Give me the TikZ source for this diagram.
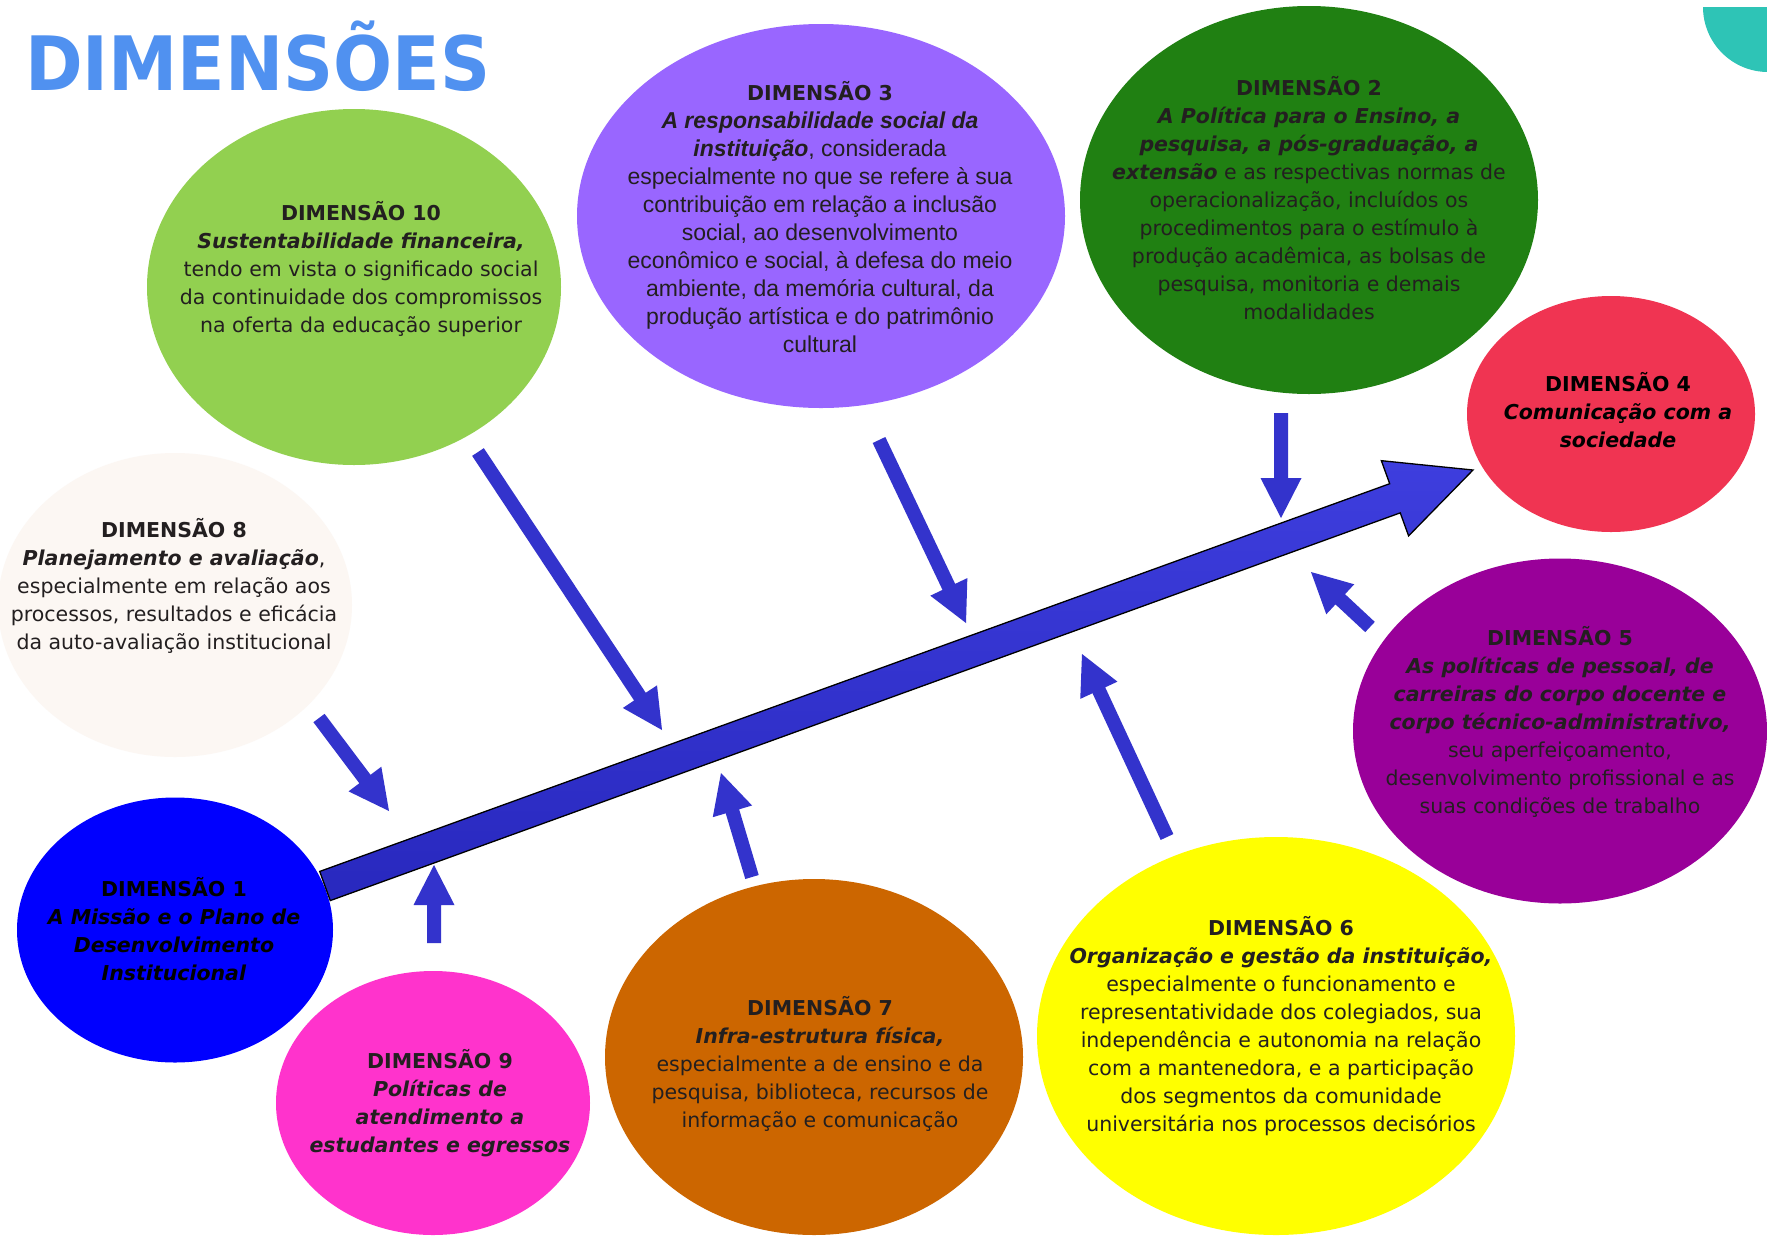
\documentclass[tikz,border=0pt]{standalone}
\usepackage{fontspec}
\usepackage{graphicx}
\setmainfont{DejaVu Sans}[BoldFont={DejaVu Sans Bold},ItalicFont={DejaVu Sans Oblique},BoldItalicFont={DejaVu Sans Bold Oblique}]
\newfontfamily\arialf{Liberation Sans}
\usetikzlibrary{calc,shapes.geometric}
\definecolor{titleblue}{RGB}{80,145,240}
\definecolor{tealc}{RGB}{46,196,182}
\definecolor{cgreenl}{RGB}{146,208,80}
\definecolor{cpurple}{RGB}{153,102,255}
\definecolor{cgreend}{RGB}{32,128,18}
\definecolor{cred}{RGB}{240,52,82}
\definecolor{ccream}{RGB}{252,247,243}
\definecolor{cmagenta}{RGB}{153,0,153}
\definecolor{cblue}{RGB}{0,0,255}
\definecolor{cpink}{RGB}{255,51,204}
\definecolor{corange}{RGB}{204,102,0}
\definecolor{cyellow}{RGB}{255,255,0}
\definecolor{ablue}{RGB}{51,51,204}
\definecolor{mainbluel}{RGB}{62,62,222}
\definecolor{mainblued}{RGB}{40,40,190}
\definecolor{tgray}{RGB}{35,31,32}
\newcommand\bi[1]{\textbf{\textit{#1}}}
% block arrow: options, tail, tip, half shaft, half head, head length
\newcommand\blkarrow[6][]{%
  \coordinate (hb) at ($(#3)!#6!(#2)$);
  \path[#1] ($(#2)!#4!90:(#3)$) -- ($(hb)!#4!90:(#3)$) -- ($(hb)!#5!90:(#3)$) -- (#3)
    -- ($(hb)!#5!-90:(#3)$) -- ($(hb)!#4!-90:(#3)$) -- ($(#2)!#4!-90:(#3)$) -- cycle;}
\begin{document}
\begin{tikzpicture}[x=1pt,y=-1pt,
  ell/.style={ellipse,draw=none,inner sep=0pt,minimum width=#1},
  txt/.style={align=center,text=tgray,inner sep=0pt,font=\fontsize{20.5}{28}\selectfont},
  sarrow/.style={fill=ablue,draw=none}]
\useasboundingbox (0,0) rectangle (1767,1235);
\fill[white] (0,0) rectangle (1767,1235);
% corner decoration
\begin{scope}
  \clip (0,7) rectangle (1767,1235);
  \fill[tealc] (1768,7) circle (65pt);
\end{scope}
% ellipses
\node[ell=414pt,minimum height=356pt,fill=cgreenl] (e10) at (354,287) {};
\node[ell=488pt,minimum height=384pt,fill=cpurple] (e3) at (821,216) {};
\node[ell=458pt,minimum height=388pt,fill=cgreend] (e2) at (1309,200) {};
\node[ell=288pt,minimum height=236pt,fill=cred] (e4) at (1611,414) {};
\node[ell=354pt,minimum height=304pt,fill=ccream] (e8) at (175,605) {};
\node[ell=414pt,minimum height=345pt,fill=cmagenta] (e5) at (1560,731) {};
\node[ell=316pt,minimum height=265pt,fill=cblue] (e1) at (175,930) {};
\node[ell=314pt,minimum height=264pt,fill=cpink] (e9) at (433,1103) {};
\node[ell=418pt,minimum height=356pt,fill=corange] (e7) at (814,1057) {};
\node[ell=478pt,minimum height=398pt,fill=cyellow] (e6) at (1276,1036) {};
% main arrow
\coordinate (mt) at (325,886);
\coordinate (mh) at (1473,470);
\blkarrow[top color=mainbluel,bottom color=mainblued,draw=black,line width=1.3pt,line join=miter]{mt}{mh}{15.5pt}{40pt}{83pt}
% small arrows
\coordinate (a10t) at (478,452);  \coordinate (a10h) at (662,730);
\coordinate (a3t) at (879,440);   \coordinate (a3h) at (966,623);
\coordinate (a2t) at (1281,413);  \coordinate (a2h) at (1281,518);
\coordinate (a5t) at (1370,627);  \coordinate (a5h) at (1311,572);
\coordinate (a6t) at (1167,837);  \coordinate (a6h) at (1082,654);
\coordinate (a7t) at (752,877);   \coordinate (a7h) at (721,773);
\coordinate (a9t) at (434,943);   \coordinate (a9h) at (434,865);
\coordinate (a8t) at (319,718);   \coordinate (a8h) at (389,811);
\blkarrow[sarrow]{a10t}{a10h}{7pt}{20.5pt}{40pt}
\blkarrow[sarrow]{a3t}{a3h}{7pt}{20.5pt}{40pt}
\blkarrow[sarrow]{a2t}{a2h}{7pt}{20.5pt}{40pt}
\blkarrow[sarrow]{a5t}{a5h}{7pt}{20.5pt}{40pt}
\blkarrow[sarrow]{a6t}{a6h}{7pt}{20.5pt}{40pt}
\blkarrow[sarrow]{a7t}{a7h}{7pt}{20.5pt}{40pt}
\blkarrow[sarrow]{a9t}{a9h}{7pt}{20.5pt}{40pt}
\blkarrow[sarrow]{a8t}{a8h}{7pt}{20.5pt}{40pt}
% title
\node[anchor=base west,inner sep=0pt,text=titleblue,font=\fontsize{75}{75}\selectfont\bfseries] (title) at (25,90) {\scalebox{0.927}[1]{DIMENSÕES}};
% texts
\node[txt] (t10) at (361,269) {\textbf{DIMENSÃO 10}\\
\bi{Sustentabilidade financeira,}\\
tendo em vista o significado social\\
da continuidade dos compromissos\\
na oferta da educação superior};
\node[txt,font=\arialf\fontsize{23}{28}\selectfont] (t3) at (820,217) {{\rmfamily\fontsize{20.5}{28}\selectfont\textbf{DIMENSÃO 3}}\\
\bi{A responsabilidade social da}\\
\bi{instituição}, considerada\\
especialmente no que se refere à sua\\
contribuição em relação a inclusão\\
social, ao desenvolvimento\\
econômico e social, à defesa do meio\\
ambiente, da memória cultural, da\\
produção artística e do patrimônio\\
cultural};
\node[txt] (t2) at (1309,198) {\textbf{DIMENSÃO 2}\\
\bi{A Política para o Ensino, a}\\
\bi{pesquisa, a pós-graduação, a}\\
\bi{extensão} e as respectivas normas de\\
operacionalização, incluídos os\\
procedimentos para o estímulo à\\
produção acadêmica, as bolsas de\\
pesquisa, monitoria e demais\\
modalidades};
\node[txt,text=black] (t4) at (1618,410) {\textbf{DIMENSÃO 4}\\
\bi{Comunicação com a}\\
\bi{sociedade}};
\node[txt] (t8) at (174,586) {\textbf{DIMENSÃO 8}\\
\bi{Planejamento e avaliação},\\
especialmente em relação aos\\
processos, resultados e eficácia\\
da auto-avaliação institucional};
\node[txt] (t5) at (1560,721.5) {\textbf{DIMENSÃO 5}\\
\bi{As políticas de pessoal, de}\\
\bi{carreiras do corpo docente e}\\
\bi{corpo técnico-administrativo,}\\
seu aperfeiçoamento,\\
desenvolvimento profissional e as\\
suas condições de trabalho};
\node[txt,text=black] (t1) at (174,929) {\textbf{DIMENSÃO 1}\\
\bi{A Missão e o Plano de}\\
\bi{Desenvolvimento}\\
\bi{Institucional}};
\node[txt] (t9) at (440,1103.5) {\textbf{DIMENSÃO 9}\\
\bi{Políticas de}\\
\bi{atendimento a}\\
\bi{estudantes e egressos}};
\node[txt] (t7) at (820,1064) {\textbf{DIMENSÃO 7}\\
\bi{Infra-estrutura física,}\\
especialmente a de ensino e da\\
pesquisa, biblioteca, recursos de\\
informação e comunicação};
\node[txt] (t6) at (1281,1026.5) {\textbf{DIMENSÃO 6}\\
\bi{Organização e gestão da instituição,}\\
especialmente o funcionamento e\\
representatividade dos colegiados, sua\\
independência e autonomia na relação\\
com a mantenedora, e a participação\\
dos segmentos da comunidade\\
universitária nos processos decisórios};
\end{tikzpicture}
\end{document}
